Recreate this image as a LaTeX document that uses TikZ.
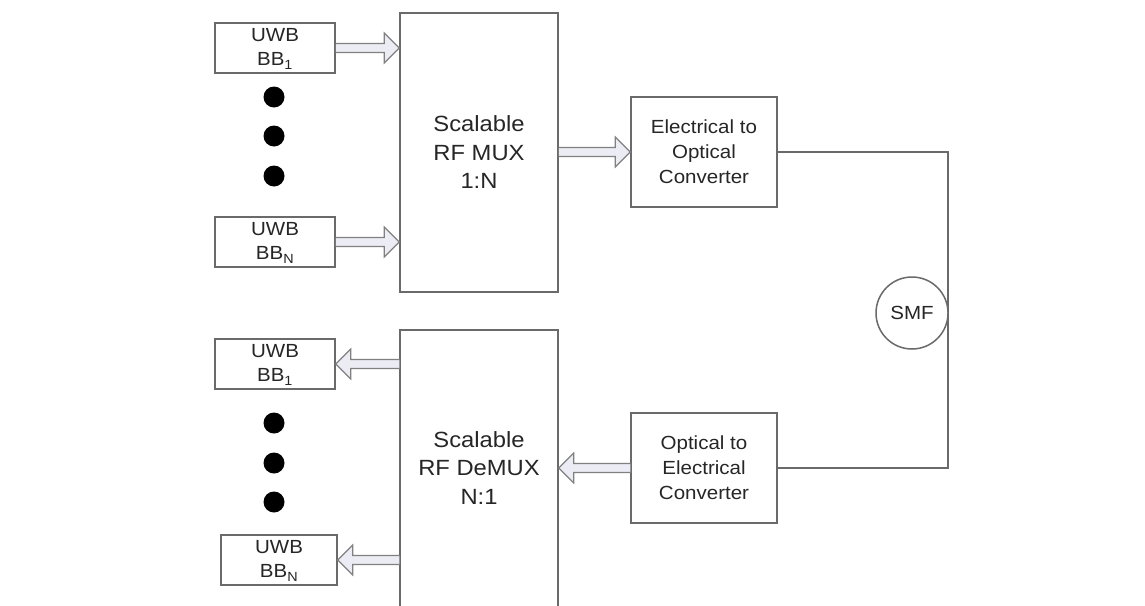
\documentclass[tikz,border=0pt]{standalone}
\usepackage{fontspec}
\setmainfont[FakeStretch=1.08]{Liberation Sans}
\usetikzlibrary{calc}
\definecolor{linegray}{HTML}{6A6A6A}
\definecolor{textgray}{HTML}{262626}
\definecolor{arrowfill}{HTML}{ECECF5}
\newcommand\fatarrowR[2]{\draw[fatarrow] ($(#1)+(0,-4.5)$) -- ($(#2)+(-15,-4.5)$) -- ($(#2)+(-15,-15)$) -- (#2) -- ($(#2)+(-15,15)$) -- ($(#2)+(-15,4.5)$) -- ($(#1)+(0,4.5)$);}
\newcommand\fatarrowL[2]{\draw[fatarrow] ($(#1)+(0,-4.5)$) -- ($(#2)+(15,-4.5)$) -- ($(#2)+(15,-15)$) -- (#2) -- ($(#2)+(15,15)$) -- ($(#2)+(15,4.5)$) -- ($(#1)+(0,4.5)$);}
\begin{document}
\begin{tikzpicture}[x=1pt,y=-1pt,
  box/.style={draw=linegray, line width=1.5pt, fill=white, text=textgray, align=center, inner sep=0pt},
  bbbox/.style={box, minimum width=120pt, minimum height=50pt, font=\fontsize{19}{24}\selectfont},
  bbtext/.style={text=textgray, align=center, font=\fontsize{19}{24}\selectfont},
  convbox/.style={box, minimum width=146pt, minimum height=110pt, font=\fontsize{19}{25}\selectfont},
  muxbox/.style={box, minimum width=158pt, font=\fontsize{22}{28.5}\selectfont},
  fatarrow/.style={draw=linegray!85, line width=1.1pt, fill=arrowfill, line join=miter},
  dot/.style={circle, fill=black, minimum size=21pt, inner sep=0pt},
  fiber/.style={draw=linegray, line width=1.5pt}]
\clip (0,0) rectangle (1145,605);
\fill[white] (0,0) rectangle (1145,605);

% transmit side
\node[bbbox] (bb1t) at (275,48) {};
\node[bbtext] (bb1tt) at (275,49) {UWB\\BB\textsubscript{1}};
\node[bbbox] (bbnt) at (275,242) {};
\node[bbtext] (bbntt) at (275,243) {UWB\\BB\textsubscript{N}};
\node[dot] (d1) at (274,97) {};
\node[dot] (d2) at (274,136) {};
\node[dot] (d3) at (274,176) {};
\node[muxbox, minimum height=279pt] (mux) at (479,152.5) {Scalable\\RF MUX\\1:N};
\node[convbox] (eo) at (704,152) {Electrical to\\Optical\\Converter};

% receive side
\node[bbbox] (bb1b) at (275,364) {};
\node[bbtext] (bb1bt) at (275,365) {UWB\\BB\textsubscript{1}};
\node[bbbox, minimum width=116pt] (bbnb) at (279,560) {};
\node[bbtext] (bbnbt) at (279,561) {UWB\\BB\textsubscript{N}};
\node[dot] (d4) at (274,423) {};
\node[dot] (d5) at (274,463) {};
\node[dot] (d6) at (274,502) {};
\node[muxbox, minimum height=278pt] (demux) at (479,469) {};
\node[text=textgray, align=center, font=\fontsize{22}{28.5}\selectfont] (demuxtxt) at (479,468) {Scalable\\RF DeMUX\\N:1};
\node[convbox] (oe) at (704,468) {Optical to\\Electrical\\Converter};

% fibre loop
\coordinate (ftop) at (948,152);
\coordinate (fbot) at (948,468);
\draw[fiber] (eo.east) -- (ftop) -- (fbot) -- (oe.east);
\node[circle, draw=linegray, line width=1.5pt, fill=white, minimum size=72pt, inner sep=0pt, text=textgray, font=\fontsize{19}{24}\selectfont] (smf) at (912,313) {SMF};

% block arrows
\coordinate (a1e) at (bb1t.east -| mux.west);
\coordinate (a2e) at (bbnt.east -| mux.west);
\coordinate (a3s) at (mux.east |- eo.west);
\fatarrowR{bb1t.east}{a1e}
\fatarrowR{bbnt.east}{a2e}
\fatarrowR{a3s}{eo.west}
\coordinate (b1s) at (demux.west |- bb1b.east);
\coordinate (b2s) at (demux.west |- bbnb.east);
\coordinate (b3e) at (demux.east |- oe.west);
\fatarrowL{b1s}{bb1b.east}
\fatarrowL{b2s}{bbnb.east}
\fatarrowL{oe.west}{b3e}
\end{tikzpicture}
\end{document}
